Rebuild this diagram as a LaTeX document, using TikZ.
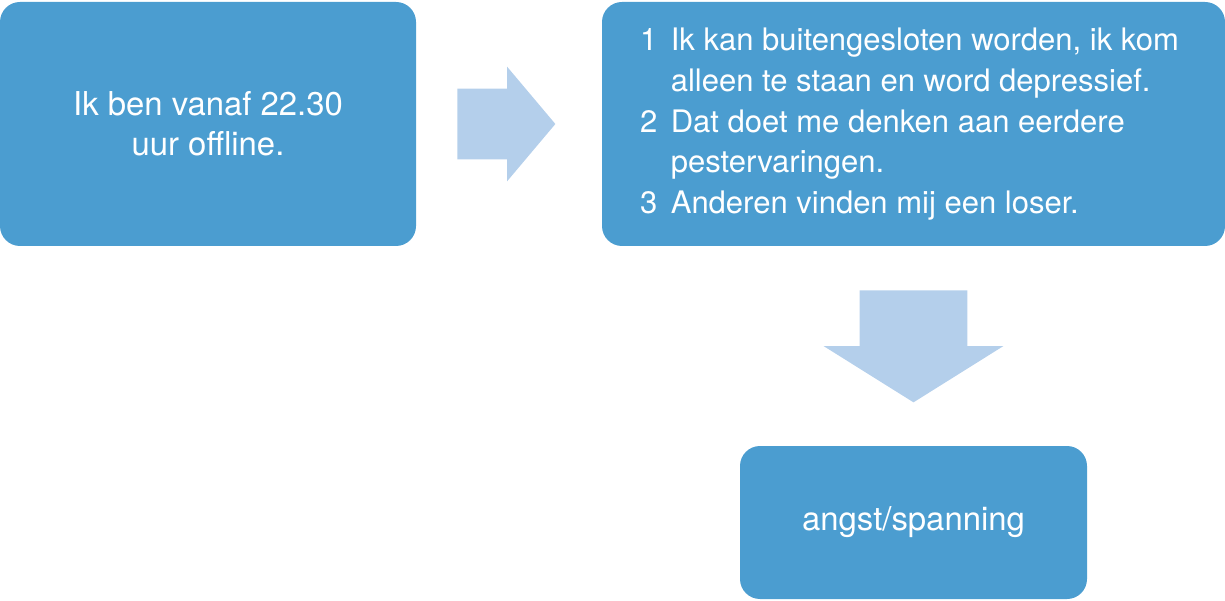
\documentclass[tikz,border=0pt]{standalone}
\usepackage{fontspec}
\setmainfont{TeX Gyre Heros}
\usetikzlibrary{shapes, positioning}

\definecolor{boxblue}{HTML}{4B9DD0}
\definecolor{arrowblue}{HTML}{B4CFEB}

\tikzset{
    block/.style={rectangle, rounded corners=0.4cm, fill=boxblue, text=white, align=center, inner sep=0pt},
    blockarrow/.style={single arrow, fill=arrowblue, inner xsep=0pt, single arrow head indent=0pt}
}

\begin{document}
\begin{tikzpicture}[font=\fontsize{18.7pt}{22.8pt}\selectfont]
    \useasboundingbox (0,0) rectangle (24.5,12);
    \node[block, minimum width=8.32cm, minimum height=4.88cm] (offline) at (4.16,9.52) {Ik ben vanaf 22.30\\uur offline.};
    \node[block, minimum width=12.46cm, minimum height=4.88cm] (gedachten) at (18.27,9.52) {%
        \fontsize{17.65pt}{23.2pt}\selectfont\hspace*{-0.16cm}%
        \begin{tabular}{@{}l@{\hspace{0.27cm}}l@{}}
            1 & Ik kan buitengesloten worden, ik kom\\
              & alleen te staan en word depressief.\\
            2 & Dat doet me denken aan eerdere\\
              & pestervaringen.\\
            3 & Anderen vinden mij een loser.
        \end{tabular}};
    \node[block, minimum width=6.94cm, minimum height=3.06cm] (gevoel) at (18.27,1.55) {angst/spanning};
    % pijlen
    \node[blockarrow, inner ysep=0.7cm, minimum height=1.96cm, minimum width=2.28cm, single arrow head extend=0.44cm,
          single arrow tip angle=99.8, anchor=tail] (pijlrechts) at (9.14,9.52) {};
    \node[blockarrow, rotate=-90, inner ysep=1.07cm, minimum height=2.24cm, minimum width=3.58cm, single arrow head extend=0.72cm,
          single arrow tip angle=115.9, anchor=tail] (pijlomlaag) at (18.27,6.2) {};
\end{tikzpicture}
\end{document}
